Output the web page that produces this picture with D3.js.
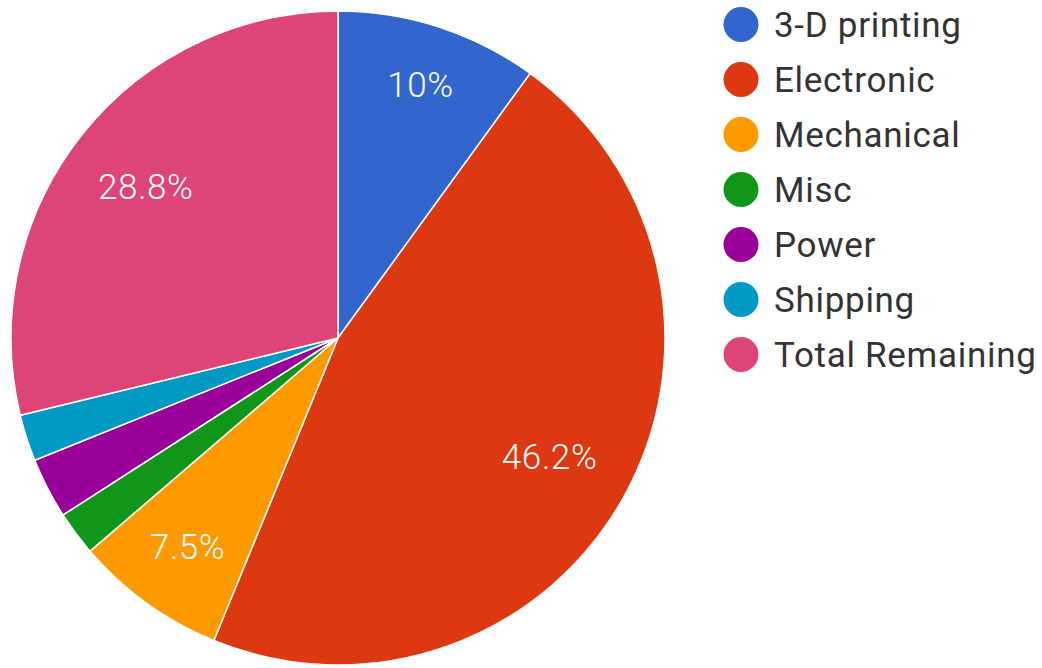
<!DOCTYPE html>
<html>
<head>
<meta charset="utf-8">
<script src="https://cdn.jsdelivr.net/npm/d3@7"></script>
<style>
  html, body { margin: 0; padding: 0; background: #fff; }
  svg { display: block; }
</style>
</head>
<body>
<svg id="chart" width="1042" height="668"></svg>
<script>
const categories = ["3-D printing", "Electronic", "Mechanical", "Misc", "Power", "Shipping", "Total Remaining"];
const values = [10, 46.2, 7.5, 2.2, 3.0, 2.3, 28.8];
const colors = ["#3366cc", "#dc3912", "#ff9900", "#109618", "#990099", "#0099c6", "#dd4477"];
const labelThreshold = 5;

const W = 1042, H = 668;
const cx = 338, cy = 338, R = 327;
const fontFamily = "Roboto, 'Liberation Sans', Arial, sans-serif";
const fontSize = 35;

const svg = d3.select("#chart");
const data = categories.map((c, i) => ({ name: c, value: values[i], color: colors[i] }));

const pie = d3.pie().value(d => d.value).sort(null);
const arcs = pie(data);
const arc = d3.arc().innerRadius(0).outerRadius(R);

const g = svg.append("g").attr("transform", `translate(${cx},${cy})`);

g.selectAll("path.slice")
  .data(arcs)
  .enter().append("path")
  .attr("class", "slice")
  .attr("d", arc)
  .attr("fill", d => d.data.color)
  .attr("stroke", "#ffffff")
  .attr("stroke-width", 1.5)
  .attr("stroke-linejoin", "round");

const total = d3.sum(values);
const fmt = v => (Math.round(v / total * 1000) / 10) + "%";

// labels: place box so its farthest corner lies at a fixed radius
const Rout = R * 0.888;
const labels = g.selectAll("text.lab")
  .data(arcs.filter(d => d.data.value / total * 100 >= labelThreshold))
  .enter().append("text")
  .attr("class", "lab")
  .attr("fill", "#ffffff")
  .attr("font-family", fontFamily)
  .attr("font-weight", 300)
  .attr("font-size", fontSize)
  .attr("letter-spacing", 0.6)
  .attr("text-anchor", "middle")
  .text(d => fmt(d.data.value));

labels.each(function(d) {
  const w = this.getComputedTextLength();
  const hw = w / 2, hh = 12.5;
  const a = (d.startAngle + d.endAngle) / 2;
  const ux = Math.sin(a), uy = -Math.cos(a);
  const b = Math.abs(ux) * hw + Math.abs(uy) * hh;
  const c = hw * hw + hh * hh - Rout * Rout;
  const dist = -b + Math.sqrt(b * b - c);
  const x = ux * dist, y = uy * dist;
  d3.select(this).attr("x", x).attr("y", y + 12.5);
});

// legend
const legendY = d3.scalePoint().domain(categories).range([24.5, 354.5]);
const legend = svg.append("g");
const items = legend.selectAll("g.item")
  .data(data)
  .enter().append("g")
  .attr("class", "item")
  .attr("transform", d => `translate(0,${legendY(d.name)})`);
items.append("circle")
  .attr("cx", 741)
  .attr("cy", 0)
  .attr("r", 17.5)
  .attr("fill", d => d.color);
items.append("text")
  .attr("x", 774)
  .attr("y", 12.5)
  .attr("font-family", fontFamily)
  .attr("font-size", fontSize)
  .attr("letter-spacing", 0.7)
  .attr("fill", "#333333")
  .text(d => d.name);
</script>
</body>
</html>
